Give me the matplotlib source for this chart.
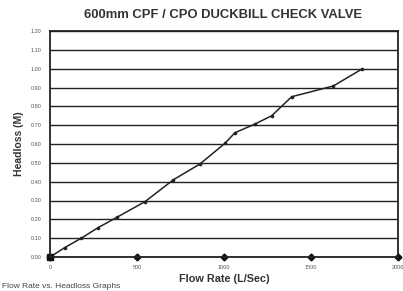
import matplotlib
matplotlib.use("Agg")
import matplotlib.pyplot as plt
import numpy as np

# flow rate (L/sec) vs headloss (m)
flow = [0, 85, 180, 275, 383, 546, 709, 862, 1006, 1063, 1178, 1274, 1389, 1628, 1791]
headloss = [0.0, 0.05, 0.10, 0.155, 0.21, 0.294, 0.41, 0.494, 0.604, 0.66, 0.706, 0.75, 0.851, 0.908, 0.997]

x_ticks = [0, 500, 1000, 1500, 2000]
y_ticks = np.round(np.arange(0, 1.21, 0.1), 2)

plt.rcParams["font.family"] = ["Liberation Sans", "DejaVu Sans"]

fig = plt.figure(figsize=(4.03, 2.91), dpi=100)
ax = fig.add_axes([50 / 403, 1 - 257 / 291, 348 / 403, 226 / 291])

ax.plot(flow, headloss, color="#222222", lw=1.1, marker="o", markersize=1.6)
ax.plot([0], [0], marker="s", color="#111111", markersize=4, clip_on=False)
ax.plot(x_ticks, [0] * len(x_ticks), linestyle="none", marker="D",
        color="#111111", markersize=3.5, clip_on=False)

ax.set_xlim(0, 2000)
ax.set_ylim(0, 1.2)
ax.set_xticks(x_ticks)
ax.set_xticklabels([str(v) for v in x_ticks], fontsize=4, color="#555555")
ax.set_yticks(y_ticks)
ax.set_yticklabels([f"{v:.2f}" for v in y_ticks], fontsize=4, color="#555555")
ax.tick_params(axis="both", length=0, pad=6)
ax.grid(True, axis="y", color="#222222", lw=1.0)
for s in ax.spines.values():
    s.set_linewidth(1.3)
    s.set_color("#222222")

ax.set_xlabel("Flow Rate (L/Sec)", fontsize=7.8, fontweight="bold", color="#333333", labelpad=3)
ax.set_ylabel("Headloss (M)", fontsize=7.5, fontweight="bold", color="#333333", labelpad=5)
fig.text(0.553, 1 - 15 / 291, "600mm CPF / CPO DUCKBILL CHECK VALVE", ha="center", va="center",
         fontsize=9.4, fontweight="bold", color="#333333")
fig.text(0.005, 0.003, "Flow Rate vs. Headloss Graphs", ha="left", va="bottom",
         fontsize=6, color="#444444")

fig.savefig("out.png", dpi=100)
